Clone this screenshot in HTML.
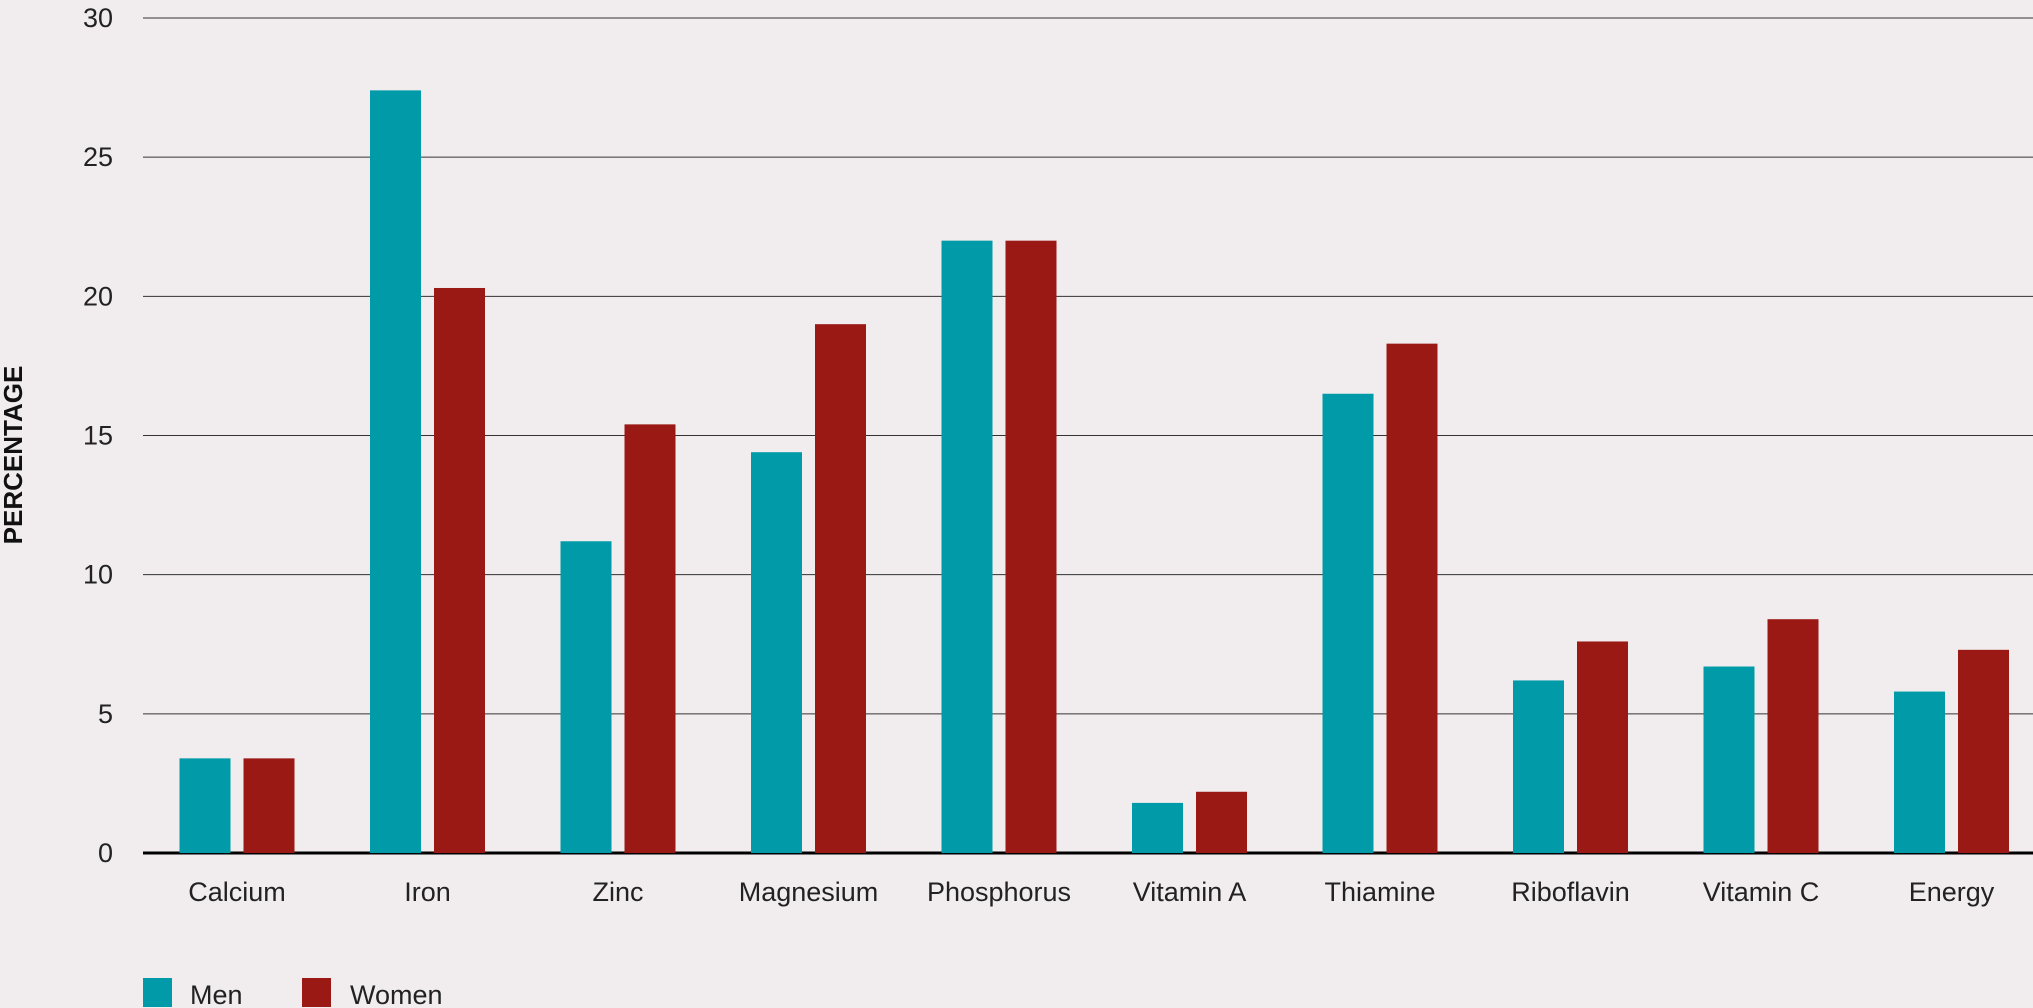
<!DOCTYPE html>
<html><head><meta charset="utf-8"><style>
html,body{margin:0;padding:0;background:#f1edee;}
svg{display:block;font-family:"Liberation Sans Narrow","Liberation Sans",sans-serif;}
</style></head><body>
<svg id="chart" width="2033" height="1008" viewBox="0 0 2033 1008">
<rect width="2033" height="1008" fill="#f1edee"/>
<g id="grid"></g><g id="bars"></g><g id="labels"></g>
<text transform="translate(22,455) rotate(-90)" text-anchor="middle" font-size="26" font-weight="bold" fill="#111">PERCENTAGE</text>
<g>
<rect x="143" y="978" width="29" height="29" fill="#009aa8"/>
<text x="190" y="1004" font-size="27" fill="#222">Men</text>
<rect x="302" y="978" width="29" height="29" fill="#9b1915"/>
<text x="350" y="1004" font-size="27" fill="#222">Women</text>
</g>
</svg>
<script>
const categories=["Calcium","Iron","Zinc","Magnesium","Phosphorus","Vitamin A","Thiamine","Riboflavin","Vitamin C","Energy"];
const men=[3.4,27.4,11.2,14.4,22.0,1.8,16.5,6.2,6.7,5.8];
const women=[3.4,20.3,15.4,19.0,22.0,2.2,18.3,7.6,8.4,7.3];
const yTicks=[0,5,10,15,20,25,30];
const NS="http://www.w3.org/2000/svg";
const left=143,right=2033,y0=853,y30=18;
const yScale=v=>y0-(v/30)*(y0-y30);
const c0=237,step=190.5;
const xCenter=i=>c0+i*step;
const bw=51,gap=13;
function mk(t,a,p){const e=document.createElementNS(NS,t);for(const k in a)e.setAttribute(k,a[k]);p.appendChild(e);return e;}
const grid=document.getElementById('grid'),bars=document.getElementById('bars'),labels=document.getElementById('labels');
yTicks.forEach(v=>{
 const y=yScale(v);
 const l=mk('line',{x1:left,x2:right,y1:y,y2:y,stroke:v===0?'#000':'#333','stroke-width':v===0?3:1},grid);
 
 
 const t=mk('text',{x:113,y:y+9,'text-anchor':'end','font-size':27,fill:'#222'},labels);
 t.textContent=v;
 
 
});
categories.forEach((c,i)=>{
 const cx=xCenter(i);
 const m=mk('rect',{x:cx-gap/2-bw,y:yScale(men[i]),width:bw,height:y0-yScale(men[i]),fill:'#009aa8'},bars);
 
 
 const w=mk('rect',{x:cx+gap/2,y:yScale(women[i]),width:bw,height:y0-yScale(women[i]),fill:'#9b1915'},bars);
 
 
 const t=mk('text',{x:cx,y:901,'text-anchor':'middle','font-size':27,fill:'#222'},labels);
 t.textContent=c;
 
 
});
</script>
</body></html>
